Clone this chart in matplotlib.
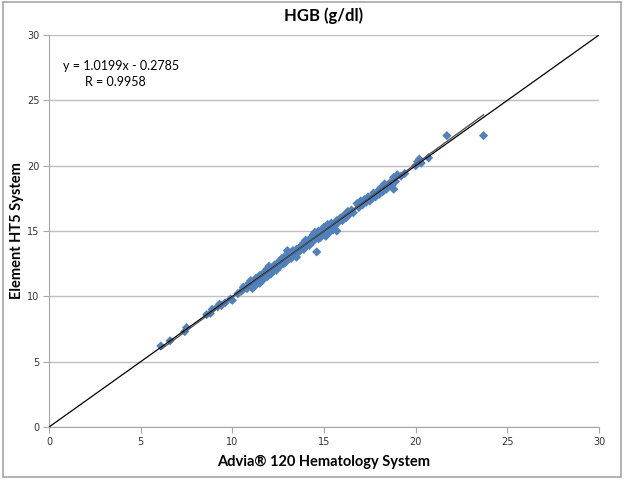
"""
HGB method comparison: Element HT5 vs Advia 120.
"""
import matplotlib
matplotlib.use("Agg")
import matplotlib.pyplot as plt
from matplotlib.patches import Rectangle
import numpy as np

slope = 1.0199
intercept = -0.2785
r_value = 0.9958

advia = [6.1, 6.6, 7.4, 7.5, 8.6, 8.8, 8.9, 9.2, 9.3, 9.4, 9.6, 9.9, 10.0, 10.3, 10.5,
         10.6, 10.8, 10.9, 11.0, 11.0, 11.1, 11.2, 11.3, 11.3, 11.4, 11.5, 11.5, 11.6,
         11.7, 11.7, 11.8, 11.9, 11.9, 12.0, 12.0, 12.1, 12.2, 12.2, 12.3, 12.4, 12.4,
         12.5, 12.6, 12.6, 12.7, 12.8, 12.8, 12.9, 12.9, 13.0, 13.0, 13.1, 13.2, 13.2,
         13.3, 13.3, 13.4, 13.5, 13.5, 13.6, 13.7, 13.7, 13.8, 13.9, 13.9, 14.0, 14.0,
         14.1, 14.2, 14.2, 14.3, 14.4, 14.4, 14.5, 14.5, 14.6, 14.6, 14.7, 14.7, 14.8,
         14.8, 14.9, 15.0, 15.0, 15.1, 15.1, 15.2, 15.3, 15.3, 15.4, 15.4, 15.5, 15.6,
         15.6, 15.7, 15.7, 15.8, 15.9, 16.0, 16.1, 16.2, 16.3, 16.4, 16.5, 16.6, 16.8,
         16.9, 17.0, 17.1, 17.2, 17.3, 17.4, 17.5, 17.6, 17.7, 17.8, 17.9, 18.0, 18.1,
         18.2, 18.3, 18.4, 18.5, 18.6, 18.7, 18.8, 18.8, 18.9, 19.0, 19.2, 19.4, 20.0,
         20.1, 20.2, 20.3, 20.7, 21.7, 23.7]
element = [6.2, 6.6, 7.3, 7.6, 8.6, 8.7, 9.0, 9.2, 9.4, 9.3, 9.5, 9.8, 9.7, 10.2, 10.4,
           10.7, 10.6, 11.0, 10.8, 11.2, 10.6, 11.1, 11.4, 10.9, 11.2, 11.6, 11.0, 11.4,
           11.8, 11.3, 11.6, 12.1, 11.5, 11.9, 12.3, 11.7, 12.2, 11.9, 12.4, 12.0, 12.2,
           12.6, 12.3, 12.5, 12.9, 12.5, 12.7, 13.1, 12.6, 12.8, 13.5, 13.0, 12.9, 13.3,
           13.5, 13.1, 13.2, 13.6, 13.0, 13.4, 13.8, 13.5, 13.9, 13.6, 14.1, 13.8, 14.3,
           14.0, 14.2, 13.9, 14.5, 14.2, 14.7, 14.4, 14.9, 13.4, 14.6, 14.4, 15.0, 14.8,
           14.5, 15.1, 14.8, 15.3, 14.6, 15.1, 15.5, 15.2, 14.9, 15.6, 15.3, 15.1, 15.6,
           15.4, 15.0, 15.8, 15.7, 16.0, 15.8, 16.2, 16.0, 16.5, 16.3, 16.6, 16.4, 17.1,
           16.8, 17.3, 17.0, 17.4, 17.2, 17.6, 17.3, 17.5, 17.9, 17.6, 18.0, 17.8, 18.3,
           18.0, 18.6, 18.2, 18.4, 18.7, 18.5, 18.2, 19.1, 18.8, 19.3, 19.2, 19.4, 20.0,
           20.3, 20.5, 20.2, 20.6, 22.3, 22.3]

ticks = [0, 5, 10, 15, 20, 25, 30]

fig = plt.figure(figsize=(6.4, 4.8), dpi=100)
ax = fig.add_axes([0.0766, 0.1104, 0.8594, 0.8167])

# chart border like Excel
fig.patches.append(Rectangle((0.005, 0.006), 0.966, 0.989, transform=fig.transFigure,
                             fill=False, edgecolor="#A6A6A6", linewidth=1.2))

ax.scatter(advia, element, marker="D", s=22, color="#4F81BD", edgecolors="none", zorder=3)

# line of identity
ax.plot([0, 30], [0, 30], color="black", linewidth=0.9, zorder=4)
# regression line over data range
xs = np.array([min(advia), max(advia)])
ax.plot(xs, slope * xs + intercept, color="#555555", linewidth=1.0, zorder=4)

ax.set_xlim(0, 30)
ax.set_ylim(0, 30)
ax.set_xticks(ticks)
ax.set_yticks(ticks)
ax.yaxis.grid(True, color="#BFBFBF", linewidth=1.0)
ax.set_axisbelow(True)
for s in ["top", "right"]:
    ax.spines[s].set_visible(False)
for s in ["left", "bottom"]:
    ax.spines[s].set_color("#A6A6A6")
ax.tick_params(direction="out", length=4, color="#A6A6A6", labelsize=7, labelcolor="#333333",
               pad=3)

ax.set_title("HGB (g/dl)", fontsize=12, fontweight="bold", family="Lato", pad=10)
ax.set_xlabel("Advia® 120 Hematology System", fontsize=10.5, fontweight="bold", family="Lato")
ax.set_ylabel("Element HT5 System", fontsize=10.5, fontweight="bold", family="Lato")
ax.xaxis.set_label_coords(0.5, -0.09)
ax.yaxis.set_label_coords(-0.058, 0.5)
ax.xaxis.label.set_va("center")
ax.yaxis.label.set_va("center")

ax.text(0.025, 0.935, "y = %.4fx - %.4f" % (slope, -intercept), transform=ax.transAxes,
        fontsize=9, family="Lato", va="top")
ax.text(0.065, 0.895, "R = %.4f" % r_value, transform=ax.transAxes,
        fontsize=9, family="Lato", va="top")

fig.savefig("out.png", dpi=100)
